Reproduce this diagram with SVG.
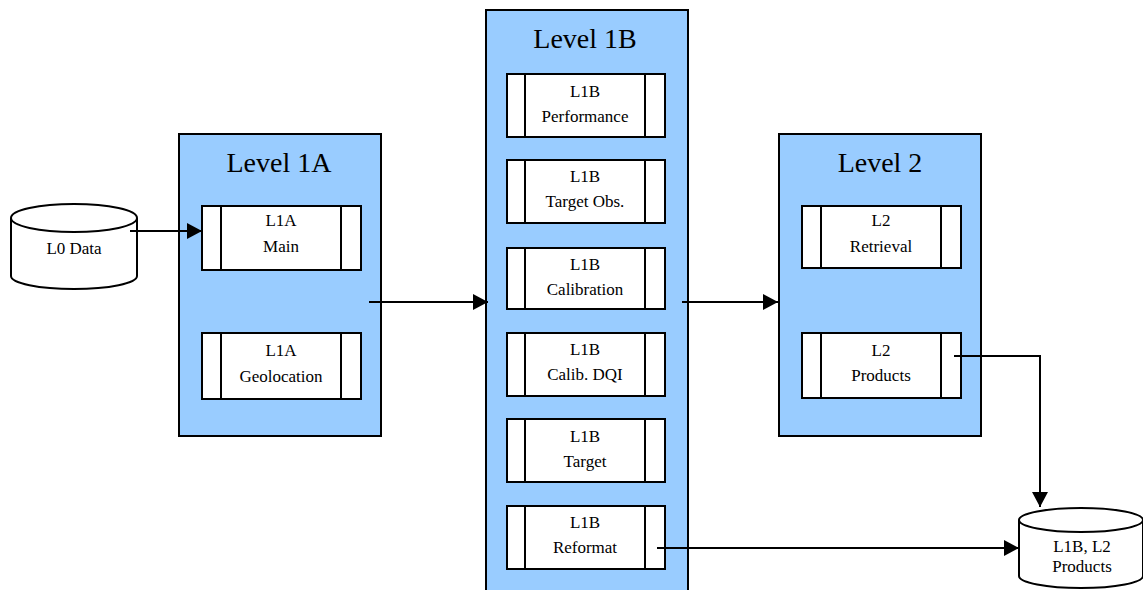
<svg xmlns="http://www.w3.org/2000/svg" width="1143" height="590" viewBox="0 0 1143 590">
<defs>
<style>
.grp{fill:#99CCFF;stroke:#000;stroke-width:2}
.box{fill:#fff;stroke:#000;stroke-width:2}
.bar{stroke:#000;stroke-width:2;fill:none}
.cyl{fill:#fff;stroke:#000;stroke-width:2}
.title{font-family:"Liberation Serif","Times New Roman",serif;font-size:28px;fill:#000;text-anchor:middle}
.lbl{font-family:"Liberation Serif","Times New Roman",serif;font-size:17px;fill:#000;text-anchor:middle}
.con{stroke:#000;stroke-width:2;fill:none}
</style>
<marker id="arr" markerUnits="userSpaceOnUse" markerWidth="16" markerHeight="16" viewBox="0 0 16 16" refX="15" refY="8" orient="auto">
<path d="M0,0 L15,8 L0,16 Z" fill="#000"/>
</marker>
</defs>
<rect width="1143" height="590" fill="#fff"/>

<g id="level1a">
<rect class="grp" x="179" y="134" width="202" height="302"/>
<text class="title" x="279" y="172">Level 1A</text>
</g>
<g id="level1b">
<rect class="grp" x="486" y="10" width="202" height="590"/>
<text class="title" x="585" y="48">Level 1B</text>
</g>
<g id="level2">
<rect class="grp" x="779" y="134" width="202" height="302"/>
<text class="title" x="880" y="172">Level 2</text>
</g>

<g id="l0data">
<path class="cyl" d="M11,218 L11,276 A63,13 0 0 0 137,276 L137,218"/>
<ellipse class="cyl" cx="74" cy="218" rx="63" ry="14"/>
<text class="lbl" x="74" y="254">L0 Data</text>
</g>

<g id="l1a-main">
<rect class="box" x="202" y="206" width="159" height="64"/>
<path class="bar" d="M221,206V270M341,206V270"/>
<text class="lbl" x="281" y="226">L1A</text>
<text class="lbl" x="281" y="252">Main</text>
</g>
<g id="l1a-geolocation">
<rect class="box" x="202" y="333" width="159" height="66"/>
<path class="bar" d="M221,333V399M341,333V399"/>
<text class="lbl" x="281" y="356">L1A</text>
<text class="lbl" x="281" y="382">Geolocation</text>
</g>

<g id="l1b-performance">
<rect class="box" x="507" y="74" width="158" height="63"/>
<path class="bar" d="M525,74V137M645,74V137"/>
<text class="lbl" x="585" y="97">L1B</text>
<text class="lbl" x="585" y="122">Performance</text>
</g>
<g id="l1b-targetobs">
<rect class="box" x="507" y="160" width="158" height="63"/>
<path class="bar" d="M525,160V223M645,160V223"/>
<text class="lbl" x="585" y="182">L1B</text>
<text class="lbl" x="585" y="207">Target Obs.</text>
</g>
<g id="l1b-calibration">
<rect class="box" x="507" y="248" width="158" height="61"/>
<path class="bar" d="M525,248V309M645,248V309"/>
<text class="lbl" x="585" y="270">L1B</text>
<text class="lbl" x="585" y="295">Calibration</text>
</g>
<g id="l1b-calibdqi">
<rect class="box" x="507" y="333" width="158" height="63"/>
<path class="bar" d="M525,333V396M645,333V396"/>
<text class="lbl" x="585" y="355">L1B</text>
<text class="lbl" x="585" y="380">Calib. DQI</text>
</g>
<g id="l1b-target">
<rect class="box" x="507" y="419" width="158" height="63"/>
<path class="bar" d="M525,419V482M645,419V482"/>
<text class="lbl" x="585" y="442">L1B</text>
<text class="lbl" x="585" y="467">Target</text>
</g>
<g id="l1b-reformat">
<rect class="box" x="507" y="506" width="158" height="63"/>
<path class="bar" d="M525,506V569M645,506V569"/>
<text class="lbl" x="585" y="528">L1B</text>
<text class="lbl" x="585" y="553">Reformat</text>
</g>

<g id="l2-retrieval">
<rect class="box" x="802" y="206" width="159" height="62"/>
<path class="bar" d="M821,206V268M941,206V268"/>
<text class="lbl" x="881" y="226">L2</text>
<text class="lbl" x="881" y="252">Retrieval</text>
</g>
<g id="l2-products">
<rect class="box" x="802" y="333" width="159" height="65"/>
<path class="bar" d="M821,333V398M941,333V398"/>
<text class="lbl" x="881" y="356">L2</text>
<text class="lbl" x="881" y="381">Products</text>
</g>

<g id="products-store">
<path class="cyl" d="M1019,520 L1019,576 A62,12 0 0 0 1143,576 L1143,520"/>
<ellipse class="cyl" cx="1081" cy="520" rx="62" ry="12"/>
<text class="lbl" x="1082" y="552">L1B, L2</text>
<text class="lbl" x="1082" y="572">Products</text>
</g>

<g id="connectors">
<path class="con" d="M130,231 H202" marker-end="url(#arr)"/>
<path class="con" d="M369,302 H488" marker-end="url(#arr)"/>
<path class="con" d="M682,302 H778" marker-end="url(#arr)"/>
<path class="con" d="M954,356 H1040 V507" marker-end="url(#arr)"/>
<path class="con" d="M657,548 H1019" marker-end="url(#arr)"/>
</g>
</svg>
